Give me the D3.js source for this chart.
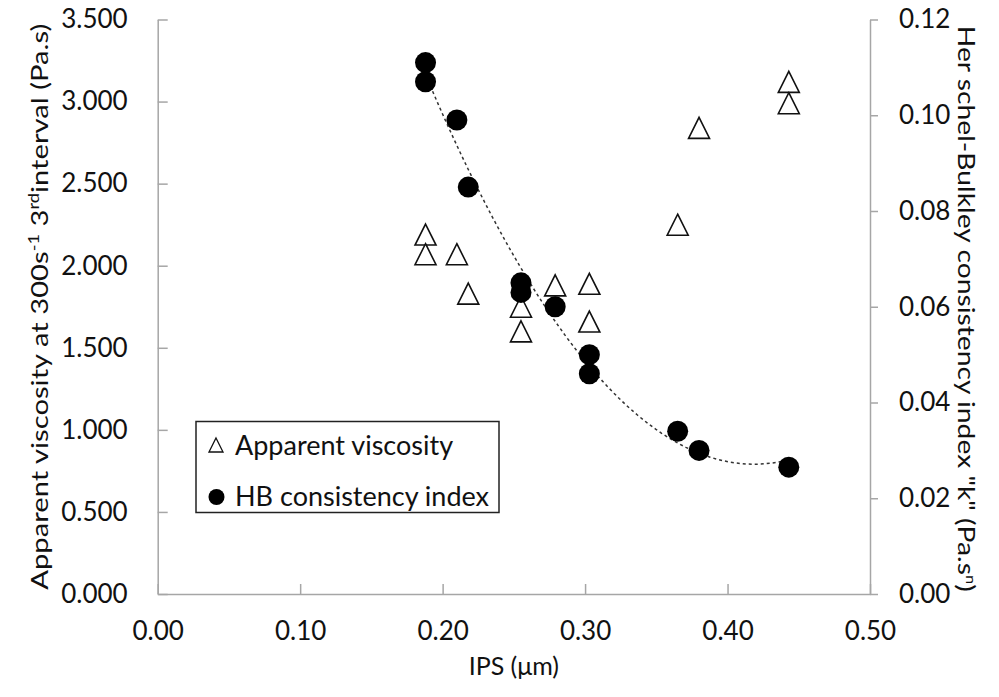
<!DOCTYPE html>
<html>
<head>
<meta charset="utf-8">
<script src="https://cdn.jsdelivr.net/npm/d3@7/dist/d3.min.js"></script>
<style>
  body { margin: 0; background: #fff; }
  svg text { font-family: Lato, "Open Sans", sans-serif; fill: #111; }
</style>
</head>
<body>
<div id="canvas"></div>
<script>
// data
var ipsVisc   = [0.188, 0.188, 0.210, 0.218, 0.255, 0.255, 0.279, 0.303, 0.303, 0.365, 0.380, 0.443, 0.443];
var viscosity = [2.19, 2.07, 2.07, 1.83, 1.75, 1.60, 1.88, 1.89, 1.66, 2.25, 2.84, 3.12, 2.99];
var ipsHB = [0.188, 0.188, 0.210, 0.218, 0.255, 0.255, 0.279, 0.303, 0.303, 0.365, 0.380, 0.443];
var hbK   = [0.111, 0.107, 0.099, 0.085, 0.065, 0.063, 0.060, 0.050, 0.046, 0.034, 0.030, 0.0265];

var xTicks = [0, 0.1, 0.2, 0.3, 0.4, 0.5];
var yLeftTicks = [0, 0.5, 1, 1.5, 2, 2.5, 3, 3.5];
var yRightTicks = [0, 0.02, 0.04, 0.06, 0.08, 0.10, 0.12];
var legendLabels = ['Apparent viscosity', 'HB consistency index'];

var W = 999, H = 697;
var m = {t: 19.5, r: 129, b: 103, l: 157.7};
var w = W - m.l - m.r,
    h = H - m.t - m.b;

var svg = d3.select('#canvas').append('svg')
    .attr('width', W)
    .attr('height', H);
var plot = svg.append('g')
    .attr('transform', 'translate(' + m.l + ',' + m.t + ')');

var scaleX = d3.scaleLinear().domain([0, 0.5]).range([0, w]);
var scaleYL = d3.scaleLinear().domain([0, 3.5]).range([h, 0]);
var scaleYR = d3.scaleLinear().domain([0, 0.12]).range([h, 0]);

var axisColor = '#a6a6a6';

// axes
var axisX = d3.axisBottom(scaleX).tickValues(xTicks).tickFormat(d3.format('.2f'))
    .tickSizeInner(-10).tickSizeOuter(0).tickPadding(28);
var axisYL = d3.axisLeft(scaleYL).tickValues(yLeftTicks).tickFormat(d3.format('.3f'))
    .tickSizeInner(-10).tickSizeOuter(0).tickPadding(30);
var axisYR = d3.axisRight(scaleYR).tickValues(yRightTicks).tickFormat(d3.format('.2f'))
    .tickSizeInner(8).tickSizeOuter(0).tickPadding(21);

function styleAxis(g) {
    g.select('.domain').attr('stroke', axisColor).attr('stroke-width', 1.5);
    g.selectAll('.tick line').attr('stroke', axisColor).attr('stroke-width', 1.5);
    g.selectAll('.tick text').attr('font-size', 26).attr('fill', '#111')
        .style('font-family', 'Lato, sans-serif');
}

plot.append('g').attr('transform', 'translate(0,' + h + ')').call(axisX).call(styleAxis);
plot.append('g').call(axisYL).call(styleAxis);
plot.append('g').attr('transform', 'translate(' + w + ',0)').call(axisYR).call(styleAxis);

// axis titles
svg.append('text')
    .attr('x', m.l + w / 2).attr('y', 675)
    .attr('text-anchor', 'middle').attr('font-size', 25)
    .text('IPS (\u03bcm)');

var lt = svg.append('text')
    .attr('transform', 'translate(48,' + (m.t + h / 2) + ') rotate(-90)')
    .attr('text-anchor', 'middle').attr('font-size', 24)
    .attr('textLength', 566).attr('lengthAdjust', 'spacingAndGlyphs');
lt.append('tspan').text('Apparent viscosity at 300s');
lt.append('tspan').attr('baseline-shift', 'super').attr('font-size', 15).text('-1');
lt.append('tspan').text(' 3');
lt.append('tspan').attr('baseline-shift', 'super').attr('font-size', 15).text('rd');
lt.append('tspan').text('interval (Pa.s)');

var rt = svg.append('text')
    .attr('transform', 'translate(958,' + (m.t + h / 2 + 2) + ') rotate(90)')
    .attr('text-anchor', 'middle').attr('font-size', 24)
    .attr('textLength', 566).attr('lengthAdjust', 'spacingAndGlyphs');
rt.append('tspan').text('Her schel-Bulkley consistency index "k" (Pa.s');
rt.append('tspan').attr('baseline-shift', 'super').attr('font-size', 14).text('n');
rt.append('tspan').text(')');

// quadratic trendline (least squares on the HB points)
function quadFit(xs, ys) {
    var S = [0, 0, 0, 0, 0], T = [0, 0, 0];
    xs.forEach(function(x, i) {
        for (var k = 0; k < 5; k++) S[k] += Math.pow(x, k);
        for (var j = 0; j < 3; j++) T[j] += ys[i] * Math.pow(x, j);
    });
    var A = [[S[0], S[1], S[2], T[0]], [S[1], S[2], S[3], T[1]], [S[2], S[3], S[4], T[2]]];
    for (var c = 0; c < 3; c++) {
        for (var r = c + 1; r < 3; r++) {
            var f = A[r][c] / A[c][c];
            for (var q = c; q < 4; q++) A[r][q] -= f * A[c][q];
        }
    }
    var b = [0, 0, 0];
    for (var i = 2; i >= 0; i--) {
        var s = A[i][3];
        for (var j2 = i + 1; j2 < 3; j2++) s -= A[i][j2] * b[j2];
        b[i] = s / A[i][i];
    }
    return b;
}
var coef = quadFit(ipsHB, hbK);
var xMin = d3.min(ipsHB), xMax = d3.max(ipsHB);
var trend = d3.range(0, 61).map(function(i) {
    var x = xMin + (xMax - xMin) * i / 60;
    return [x, coef[0] + coef[1] * x + coef[2] * x * x];
});
plot.append('path')
    .datum(trend)
    .attr('fill', 'none')
    .attr('stroke', '#333')
    .attr('stroke-width', 1.5)
    .attr('stroke-dasharray', '3,3')
    .attr('d', d3.line().x(function(d) { return scaleX(d[0]); }).y(function(d) { return scaleYR(d[1]); }));

// markers
function triPath(cx, cy, s) {
    return 'M' + cx + ',' + (cy - s / 2) + 'L' + (cx + s / 2) + ',' + (cy + s / 2) +
        'L' + (cx - s / 2) + ',' + (cy + s / 2) + 'Z';
}

plot.selectAll('.tri').data(viscosity).enter().append('path')
    .attr('class', 'tri')
    .attr('d', function(d, i) { return triPath(scaleX(ipsVisc[i]), scaleYL(d), 21); })
    .attr('fill', '#fff').attr('stroke', '#111').attr('stroke-width', 1.6);

plot.selectAll('.dot').data(hbK).enter().append('circle')
    .attr('class', 'dot')
    .attr('cx', function(d, i) { return scaleX(ipsHB[i]); })
    .attr('cy', function(d) { return scaleYR(d); })
    .attr('r', 10.5)
    .attr('fill', '#000');

// legend
var lg = svg.append('g');
lg.append('rect')
    .attr('x', 196).attr('y', 421.5).attr('width', 303).attr('height', 91)
    .attr('fill', '#fff').attr('stroke', '#222').attr('stroke-width', 1.5);
lg.append('path').attr('d', triPath(216, 445, 14))
    .attr('fill', '#fff').attr('stroke', '#111').attr('stroke-width', 1.3);
lg.append('circle').attr('cx', 216.5).attr('cy', 497).attr('r', 8).attr('fill', '#000');
lg.selectAll('.lt').data(legendLabels).enter().append('text')
    .attr('x', 235)
    .attr('y', function(d, i) { return 455 + i * 51; })
    .attr('font-size', 27)
    .text(function(d) { return d; });
</script>
</body>
</html>
